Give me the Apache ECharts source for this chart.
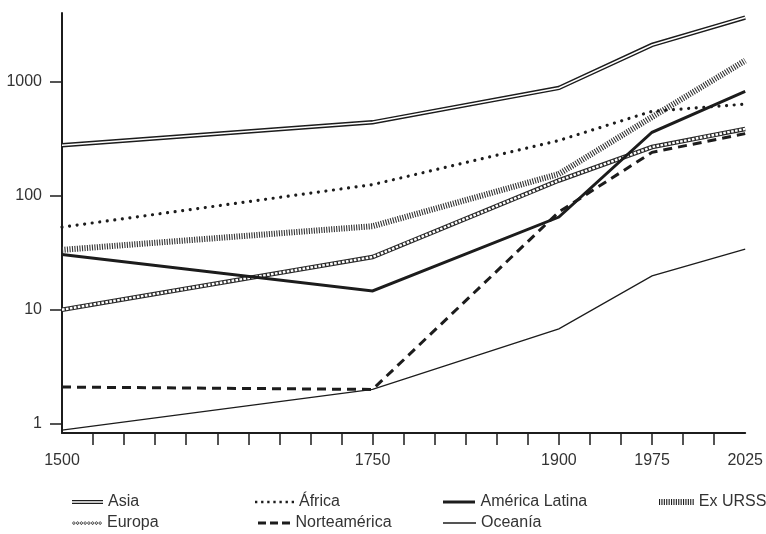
<!DOCTYPE html>
<html>
<head>
<meta charset="utf-8">
<script src="https://cdn.jsdelivr.net/npm/echarts@6/dist/echarts.min.js"></script>
<style>
  html, body { margin: 0; padding: 0; background: #fff; }
  #chart { width: 766px; height: 534px; }
</style>
</head>
<body>
<div id="chart"></div>
<script>
// Population by region (millions), log scale
const years = [1500, 1750, 1900, 1975, 2025];
// position of each year along the 22-step time axis
const yearSlots = [0, 10, 16, 19, 22];

const asia         = [277, 440, 880, 2100, 3650];
const africa       = [53, 125, 305, 550, 635];
const latinAmerica = [30.5, 14.6, 65, 360, 820];
const exUSSR       = [33.5, 54, 155, 490, 1530];
const europe       = [10, 29, 136, 267, 385];
const northAmerica = [2.1, 2.0, 72, 240, 350];
const oceania      = [0.88, 2.0, 6.8, 19.8, 34];

const yTickValues = [1, 10, 100, 1000];
const xTickLabels = ['1500', '1750', '1900', '1975', '2025'];

const INK = '#1c1c1c';
const TEXT = '#333333';
const FONT = '"Liberation Sans", Arial, sans-serif';

function pts(values) {
  return years.map((y, i) => [yearSlots[i], values[i]]);
}

function lineSeries(name, values, lineStyle, z) {
  return {
    name: name,
    type: 'line',
    data: pts(values),
    symbol: 'none',
    showSymbol: false,
    silent: true,
    animation: false,
    z: z,
    itemStyle: { color: INK },
    lineStyle: Object.assign({ join: 'miter' }, lineStyle)
  };
}

// legend swatches drawn as paths, one per line style
function rect(x, y, w, h) {
  return 'M' + x + ',' + y + 'h' + w + 'v' + h + 'h' + (-w) + 'Z';
}
function repeat(n, fn) {
  let s = '';
  for (let i = 0; i < n; i++) s += fn(i);
  return s;
}
const icons = {
  asia: 'path://' + rect(0, 0, 32, 1.3) + rect(0, 3, 32, 1.3),
  africa: 'path://' + repeat(7, i => rect(i * 6.3, 0, 2.4, 2.4)),
  latin: 'path://' + rect(0, 0, 32, 3),
  ussr: 'path://' + repeat(15, i => rect(i * 2.4, 0, 1.1, 6)),
  europe: 'path://' + repeat(8, i => {
    const x = i * 4;
    return 'M' + x + ',2L' + (x + 2) + ',0L' + (x + 4) + ',2L' + (x + 2) + ',4Z' +
           'M' + (x + 0.9) + ',2L' + (x + 2) + ',3.1L' + (x + 3.1) + ',2L' + (x + 2) + ',0.9Z';
  }),
  northAm: 'path://' + repeat(3, i => rect(i * 12, 0, 8, 3)),
  oceania: 'path://' + rect(0, 0, 32, 1.3)
};

const row1 = 494, row2 = 515;
function legendItem(name, left, top, width, height, icon) {
  return {
    left: left, top: top,
    padding: 0,
    itemWidth: width, itemHeight: height,
    itemGap: 0,
    selectedMode: false,
    data: [{ name: name, icon: icon }],
    textStyle: { fontSize: 16, color: TEXT, fontFamily: FONT }
  };
}

const chart = echarts.init(document.getElementById('chart'), null, { renderer: 'canvas' });

chart.setOption({
  animation: false,
  backgroundColor: '#ffffff',
  grid: { left: 62, right: 18, top: 13, bottom: 101, containLabel: false },
  xAxis: {
    type: 'value',
    min: 0,
    max: 22,
    splitLine: { show: false },
    axisLine: { show: true, lineStyle: { color: INK, width: 2 } },
    axisTick: {
      show: true, length: 12,
      customValues: Array.from({ length: 21 }, (_, i) => i + 1),
      lineStyle: { color: INK, width: 1.5 }
    },
    axisLabel: {
      customValues: yearSlots,
      margin: 20,
      fontSize: 16, color: TEXT, fontFamily: FONT,
      formatter: function (v) {
        const i = yearSlots.indexOf(Math.round(v));
        return i >= 0 ? xTickLabels[i] : '';
      }
    }
  },
  yAxis: {
    type: 'log',
    logBase: 10,
    min: 0.83,
    max: 4000,
    splitLine: { show: false },
    axisLine: { show: true, lineStyle: { color: INK, width: 2 } },
    axisTick: {
      show: true, length: 12,
      customValues: yTickValues,
      lineStyle: { color: INK, width: 1.5 }
    },
    axisLabel: {
      customValues: yTickValues,
      margin: 20,
      fontSize: 16, color: TEXT, fontFamily: FONT,
      formatter: function (v) { return String(Math.round(v)); }
    }
  },
  legend: [
    legendItem('Asia', 72, row1, 31, 4.3, icons.asia),
    legendItem('África', 255, row1, 39, 2.4, icons.africa),
    legendItem('América Latina', 443, row1, 33, 3, icons.latin),
    legendItem('Ex URSS', 659, row1, 35, 6, icons.ussr),
    legendItem('Europa', 72, row2, 30, 4, icons.europe),
    legendItem('Norteamérica', 258, row2, 33, 3, icons.northAm),
    legendItem('Oceanía', 443, row2, 33, 1.4, icons.oceania)
  ],
  series: [
    lineSeries('Oceanía', oceania, { color: INK, width: 1.3 }, 2),
    lineSeries('Norteamérica', northAmerica, { color: INK, width: 3, type: [9, 6] }, 3),
    lineSeries('Europa', europe, { color: '#2a2a2a', width: 4.6 }, 4),
    lineSeries('Europa interior', europe, { color: '#ffffff', width: 2.4, type: [2.6, 1.4] }, 5),
    lineSeries('Ex URSS', exUSSR, { color: '#333333', width: 6, type: [1.1, 1.4] }, 6),
    lineSeries('América Latina', latinAmerica, { color: INK, width: 3 }, 7),
    lineSeries('África', africa, { color: INK, width: 3.2, type: [0.01, 7.6], cap: 'round' }, 8),
    lineSeries('Asia', asia, { color: INK, width: 4.4 }, 9),
    lineSeries('Asia interior', asia, { color: '#ffffff', width: 1.6 }, 10)
  ]
});
</script>
</body>
</html>
